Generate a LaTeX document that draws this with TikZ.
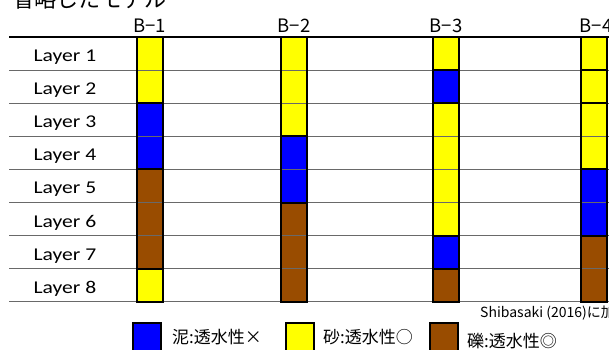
\documentclass[tikz,border=0pt]{standalone}
\usepackage{fontspec}
\setmainfont{Carlito}
\newfontfamily\jp{Noto Sans CJK JP}
\definecolor{mud}{RGB}{0,0,255}
\definecolor{sand}{RGB}{255,255,0}
\definecolor{gravel}{RGB}{153,76,0}
\definecolor{rowline}{RGB}{105,105,105}
\tikzset{
  layerlbl/.style={anchor=base, font=\fontsize{18}{18}\selectfont, inner sep=0pt},
  borelbl/.style={anchor=base, font=\jp\fontsize{18.5}{18.5}\selectfont, inner sep=0pt},
  legtxt/.style={anchor=west, font=\jp\fontsize{17}{17}\selectfont, inner sep=0pt},
  legbox/.style={draw=black, line width=2pt},
  blockedge/.style={draw=black, line width=2pt},
}
\begin{document}
\begin{tikzpicture}[x=1pt,y=-1pt]
\clip (0,0) rectangle (609,349);
\fill[white] (0,0) rectangle (609,349);
% title (cut at top)
\node[anchor=base west, inner sep=0pt, font=\jp\fontsize{22}{22}\selectfont] (title) at (12,7) {省略したモデル};
% bore labels
\node[borelbl] (b1) at (149.5,32) {B−1};
\node[borelbl] (b2) at (294,32) {B−2};
\node[borelbl] (b3) at (446,32) {B−3};
\node[borelbl] (b4) at (596,32) {B−4};
% blocks fill
\def\blocks{137/1/2/sand, 137/3/4/mud, 137/5/7/gravel, 137/8/8/sand,
  281/1/3/sand, 281/4/5/mud, 281/6/8/gravel,
  433/1/1/sand, 433/2/2/mud, 433/3/6/sand, 433/7/7/mud, 433/8/8/gravel,
  581/1/1/sand, 581/2/2/sand, 581/3/4/sand, 581/5/6/mud, 581/7/8/gravel}
\foreach \x/\a/\b/\c in \blocks {
  \fill[\c] (\x,{37+33.1*(\a-1)}) rectangle ({\x+26},{37+33.1*\b});
}
% row lines
\foreach \k in {1,...,8} {
  \draw[rowline, line width=1pt] (9,{37+33.1*\k}) -- (609,{37+33.1*\k});
}
\draw[black, line width=2.5pt] (9,37) -- (609,37);
% block borders
\foreach \x/\a/\b/\c in \blocks {
  \draw[blockedge] (\x,{37+33.1*(\a-1)}) rectangle ({\x+26},{37+33.1*\b});
}
% layer labels
\foreach \k in {1,...,8} {
  \node[layerlbl] (layer\k) at (65,{37+33.1*(\k-1)+24.5}) {\scalebox{1.2}[1]{Layer \k}};
}
% source
\node[anchor=base west, inner sep=0pt, font=\jp\fontsize{14}{14}\selectfont] (src) at (480,317) {Shibasaki (2016)に加筆};
% legend
\draw[legbox, fill=mud] (133,323) rectangle (161,352);
\node[legtxt] (lmud) at (172,337) {泥:透水性×};
\draw[legbox, fill=sand] (286,323) rectangle (314,352);
\node[legtxt] (lsand) at (323,337) {砂:透水性○};
\draw[legbox, fill=gravel] (430,323) rectangle (458,352);
\node[legtxt] (lgravel) at (467,341) {礫:透水性◎};
\end{tikzpicture}
\end{document}
